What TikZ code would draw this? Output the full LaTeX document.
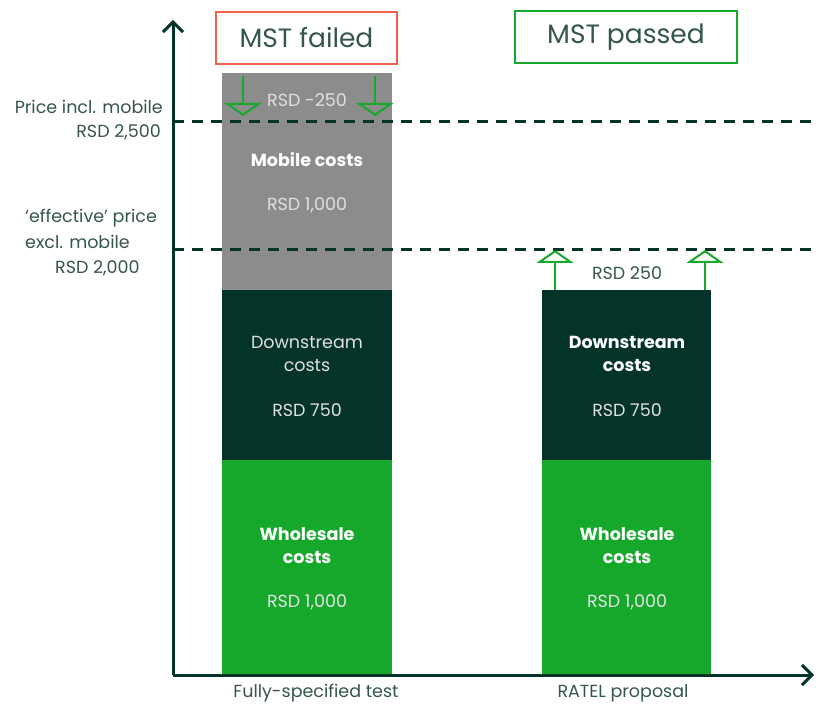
\documentclass[tikz,border=0pt]{standalone}
\usepackage{fontspec}
\setmainfont{Poppins}
\usetikzlibrary{arrows.meta}
\definecolor{darkgr}{HTML}{04332A}
\definecolor{midgr}{HTML}{15A82B}
\definecolor{greybar}{HTML}{8C8C8C}
\definecolor{txtgr}{HTML}{35564B}
\definecolor{redbox}{HTML}{F0604D}
\tikzset{
  lbl/.style={text=txtgr,font=\fontsize{17.5}{19}\selectfont,inner sep=0pt},
  inbar/.style={text=white,font=\fontsize{17.5}{23}\selectfont,inner sep=0pt,align=center},
  bold/.style={font=\fontsize{17.5}{23}\selectfont\bfseries},
  move/.style={midgr,line width=2pt,-{Triangle[open,width=37pt,length=13pt,line width=2pt]}},
  level/.style={darkgr,line width=3pt,dash pattern=on 11pt off 8pt},
  title/.style={text=txtgr,font=\fontsize{26.5}{28}\selectfont,line width=2pt,minimum height=52pt,inner xsep=0pt}
}
\begin{document}
\begin{tikzpicture}[x=1pt,y=-1pt]
\useasboundingbox (0,0) rectangle (816,708);
% bars
\fill[greybar] (222,73) rectangle (392,290);
\fill[darkgr] (222,290) rectangle (392,460);
\fill[midgr] (222,460) rectangle (392,675);
\fill[darkgr] (542,290) rectangle (711,460);
\fill[midgr] (542,460) rectangle (711,675);
% levels
\draw[level] (173,122) -- (816,122);
\draw[level] (173,250) -- (816,250);
% axes
\coordinate (orig) at (173,675);
\coordinate (ytop) at (173,20);
\coordinate (xend) at (814,675);
\draw[darkgr,line width=3pt,-{Straight Barb[length=10pt,width=20pt,line width=3pt]}] (orig) -- (ytop);
\draw[darkgr,line width=3pt,-{Straight Barb[length=10pt,width=20pt,line width=3pt]}] (orig) -- (xend);
% titles
\node[title,draw=redbox,minimum width=181pt] (fail) at (306.5,38) {MST failed};
\node[title,draw=midgr,minimum width=222pt] (pass) at (626,37) {MST passed};
% axis labels
\node[lbl,anchor=east] (pinc) at (163,107) {Price incl. mobile};
\node[lbl,anchor=east] (pincv) at (161,132) {RSD 2,500};
\node[lbl,anchor=west] (peff) at (25,218) {‘effective’ price};
\node[lbl,anchor=west] (pexc) at (25,242) {excl. mobile};
\node[lbl,anchor=west] (pexcv) at (55,268) {RSD 2,000};
% arrows
\coordinate (a1) at (243,76); \coordinate (a2) at (243,116);
\coordinate (a3) at (375,76); \coordinate (a4) at (375,116);
\coordinate (b1) at (555,290); \coordinate (b2) at (555,250);
\coordinate (b3) at (705,290); \coordinate (b4) at (705,250);
\draw[move] (a1) -- (a2);
\draw[move] (a3) -- (a4);
\draw[move] (b1) -- (b2);
\draw[move] (b3) -- (b4);
% bar texts
\node[inbar,text=white!88!black] (cut) at (307,100) {RSD -250};
\node[inbar,bold] (mob) at (307,160) {Mobile costs};
\node[inbar,text=white!88!black] (mobv) at (307,205) {RSD 1,000};
\node[inbar,text=white!88!black] (dsl) at (307,354) {Downstream\\costs};
\node[inbar,text=white!88!black] (dslv) at (307,410) {RSD 750};
\node[inbar,bold] (whl) at (307,546) {Wholesale\\costs};
\node[inbar,text=white!90!black] (whlv) at (307,602) {RSD 1,000};
\node[lbl] (up) at (627,273) {RSD 250};
\node[inbar,bold] (dsr) at (627,354) {Downstream\\costs};
\node[inbar,text=white!88!black] (dsrv) at (627,410) {RSD 750};
\node[inbar,bold] (whr) at (627,546) {Wholesale\\costs};
\node[inbar,text=white!90!black] (whrv) at (627,602) {RSD 1,000};
% categories
\node[lbl] (cat1) at (316,693) {Fully-specified test};
\node[lbl] (cat2) at (623,693) {RATEL proposal};
\end{tikzpicture}
\end{document}
